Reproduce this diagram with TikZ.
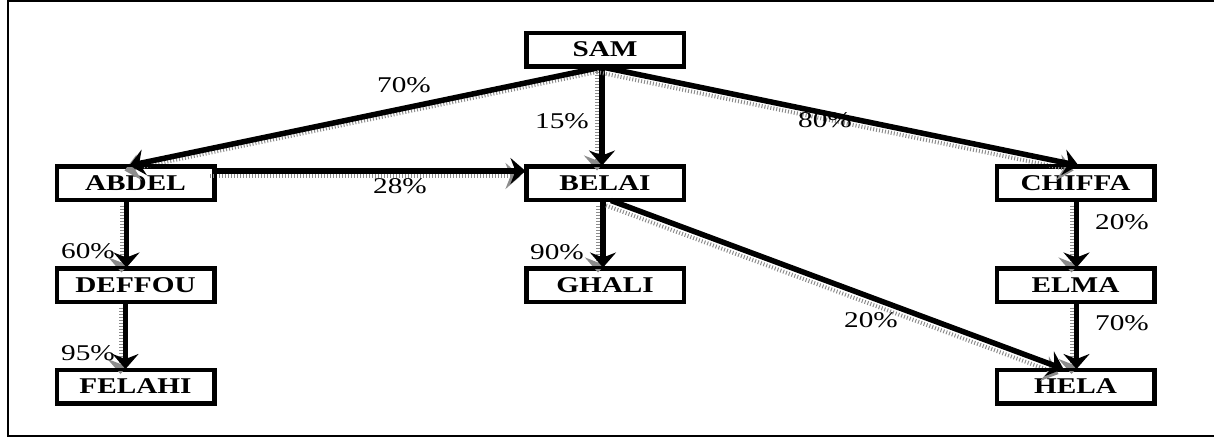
\documentclass[tikz,border=0pt]{standalone}
\usepackage{fontspec}
\setmainfont{Liberation Serif}
\newfontfamily\wideserif[FakeStretch=1.3]{Liberation Serif}
\usetikzlibrary{arrows.meta}

\tikzset{
  person/.style={draw=black, line width=3pt, rectangle, minimum width=156pt,
    minimum height=32pt, inner sep=0pt, fill=white,
    font=\wideserif\fontsize{22.5}{24}\selectfont\bfseries},
  share/.style={inner sep=0pt, font=\wideserif\fontsize{22.5}{24}\selectfont},
  link/.style={line width=5.5pt, draw=black,
    -{Stealth[length=15pt, width=26pt, inset=5pt]}},
  linkshade/.style={line width=4pt, draw=black!45,
    dash pattern=on 1pt off 2pt,
    -{Stealth[length=15pt, width=26pt, inset=5pt]}},
}

\newcommand{\shadedlink}[2]{%
  \draw[linkshade, transform canvas={shift={(-5pt,-5pt)}}] #1 -- #2;
  \draw[link] #1 -- #2;}

\begin{document}
\begin{tikzpicture}[x=1pt, y=-1pt]
  \useasboundingbox (0,0) rectangle (1214,440);
  \fill[white] (0,0) rectangle (1214,440);

  % open frame: left, top and bottom edges
  \draw[line width=2pt] (1216,1) -- (8,1) -- (8,436) -- (1216,436);

  % holdings
  \node[person] (sam)    at (605,49.5)   {SAM};
  \node[person] (abdel)  at (135.5,183)  {ABDEL};
  \node[person] (belai)  at (605,183)    {BELAI};
  \node[person] (chiffa) at (1075.5,183) {CHIFFA};
  \node[person] (deffou) at (135.5,285)  {DEFFOU};
  \node[person] (ghali)  at (605,285)    {GHALI};
  \node[person] (elma)   at (1075.5,285) {ELMA};
  \node[person] (felahi) at (135.5,386.5){FELAHI};
  \node[person] (hela)   at (1075.5,386.5){HELA};

  % ownership links
  \shadedlink{([xshift=-3pt]sam.south)}{([xshift=-6pt]abdel.north)}
  \shadedlink{([xshift=-3pt]sam.south)}{([xshift=-3pt]belai.north)}
  \shadedlink{([xshift=-3pt]sam.south)}{([xshift=3pt]chiffa.north)}
  \shadedlink{([yshift=12pt]abdel.east)}{([yshift=12pt]belai.west)}
  \shadedlink{([xshift=-9pt]abdel.south)}{([xshift=-9pt]deffou.north)}
  \shadedlink{([xshift=-10pt]deffou.south)}{([xshift=-10pt]felahi.north)}
  \shadedlink{([xshift=-2pt]belai.south)}{([xshift=-2pt]ghali.north)}
  \shadedlink{([xshift=6pt]belai.south)}{([xshift=-12pt]hela.north)}
  \shadedlink{([xshift=1pt]chiffa.south)}{([xshift=1pt]elma.north)}
  \shadedlink{([xshift=1pt]elma.south)}{([xshift=1pt]hela.north)}

  % redraw boxes over the link ends
  \foreach \n in {sam,abdel,belai,chiffa,deffou,ghali,elma,felahi,hela}
    \draw[line width=3pt] (\n.north west) rectangle (\n.south east);

  % percentages
  \node[share] (p1)  at (404,85)   {70\%};
  \node[share] (p2)  at (562,121)  {15\%};
  \node[share] (p3)  at (825,120)  {80\%};
  \node[share] (p4)  at (400,186)  {28\%};
  \node[share] (p5)  at (88,251)   {60\%};
  \node[share] (p6)  at (557,252)  {90\%};
  \node[share] (p7)  at (1122,222) {20\%};
  \node[share] (p8)  at (88,353)   {95\%};
  \node[share] (p9)  at (871,320)  {20\%};
  \node[share] (p10) at (1122,323) {70\%};
\end{tikzpicture}
\end{document}
